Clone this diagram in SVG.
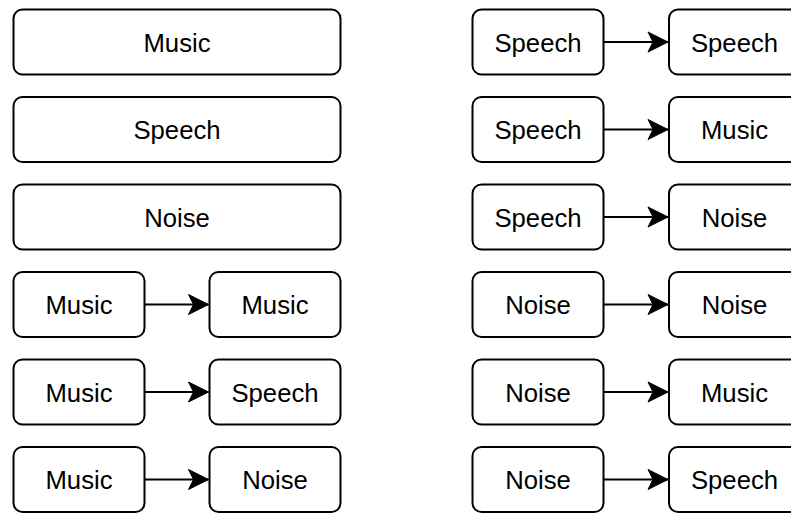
<svg xmlns="http://www.w3.org/2000/svg" width="791" height="513" viewBox="0 0 791 513">
<style>
.b{fill:#fff;stroke:#000;stroke-width:2}
.t{font-family:"Liberation Sans",Arial,sans-serif;font-size:25.7px;text-anchor:middle;fill:#000}
.c{stroke:#000;stroke-width:2;fill:none}
</style>
<defs>
<marker id="ah" markerUnits="userSpaceOnUse" markerWidth="24" markerHeight="24" viewBox="-22 -12 24 24" refX="0" refY="0" orient="auto">
<path d="M0,0 L-20,-10 L-15,0 L-20,10 Z" fill="#000" stroke="#000" stroke-width="1"/>
</marker>
</defs>
<rect width="791" height="513" fill="#fff"/>
<g id="n1"><rect class="b" x="13.5" y="9.5" width="327" height="65" rx="9"/><text class="t" x="177" y="51.5">Music</text></g>
<g id="n2"><rect class="b" x="13.5" y="97" width="327" height="65" rx="9"/><text class="t" x="177" y="139">Speech</text></g>
<g id="n3"><rect class="b" x="13.5" y="184.5" width="327" height="65" rx="9"/><text class="t" x="177" y="226.5">Noise</text></g>
<g id="n4"><rect class="b" x="13.5" y="272" width="131" height="65" rx="9"/><text class="t" x="79" y="314">Music</text></g>
<g id="n5"><rect class="b" x="209.5" y="272" width="131" height="65" rx="9"/><text class="t" x="275" y="314">Music</text></g>
<g id="n6"><rect class="b" x="13.5" y="359.5" width="131" height="65" rx="9"/><text class="t" x="79" y="401.5">Music</text></g>
<g id="n7"><rect class="b" x="209.5" y="359.5" width="131" height="65" rx="9"/><text class="t" x="275" y="401.5">Speech</text></g>
<g id="n8"><rect class="b" x="13.5" y="447" width="131" height="65" rx="9"/><text class="t" x="79" y="489">Music</text></g>
<g id="n9"><rect class="b" x="209.5" y="447" width="131" height="65" rx="9"/><text class="t" x="275" y="489">Noise</text></g>
<g id="n10"><rect class="b" x="472.5" y="9.5" width="131" height="65" rx="9"/><text class="t" x="538" y="51.5">Speech</text></g>
<g id="n11"><rect class="b" x="669" y="9.5" width="131" height="65" rx="9"/><text class="t" x="734.5" y="51.5">Speech</text></g>
<g id="n12"><rect class="b" x="472.5" y="97" width="131" height="65" rx="9"/><text class="t" x="538" y="139">Speech</text></g>
<g id="n13"><rect class="b" x="669" y="97" width="131" height="65" rx="9"/><text class="t" x="734.5" y="139">Music</text></g>
<g id="n14"><rect class="b" x="472.5" y="184.5" width="131" height="65" rx="9"/><text class="t" x="538" y="226.5">Speech</text></g>
<g id="n15"><rect class="b" x="669" y="184.5" width="131" height="65" rx="9"/><text class="t" x="734.5" y="226.5">Noise</text></g>
<g id="n16"><rect class="b" x="472.5" y="272" width="131" height="65" rx="9"/><text class="t" x="538" y="314">Noise</text></g>
<g id="n17"><rect class="b" x="669" y="272" width="131" height="65" rx="9"/><text class="t" x="734.5" y="314">Noise</text></g>
<g id="n18"><rect class="b" x="472.5" y="359.5" width="131" height="65" rx="9"/><text class="t" x="538" y="401.5">Noise</text></g>
<g id="n19"><rect class="b" x="669" y="359.5" width="131" height="65" rx="9"/><text class="t" x="734.5" y="401.5">Music</text></g>
<g id="n20"><rect class="b" x="472.5" y="447" width="131" height="65" rx="9"/><text class="t" x="538" y="489">Noise</text></g>
<g id="n21"><rect class="b" x="669" y="447" width="131" height="65" rx="9"/><text class="t" x="734.5" y="489">Speech</text></g>
<g id="connectors">
<path class="c" d="M144.5,304.5 H208.5" marker-end="url(#ah)"/>
<path class="c" d="M144.5,392 H208.5" marker-end="url(#ah)"/>
<path class="c" d="M144.5,479.5 H208.5" marker-end="url(#ah)"/>
<path class="c" d="M603.5,42 H668" marker-end="url(#ah)"/>
<path class="c" d="M603.5,129.5 H668" marker-end="url(#ah)"/>
<path class="c" d="M603.5,217 H668" marker-end="url(#ah)"/>
<path class="c" d="M603.5,304.5 H668" marker-end="url(#ah)"/>
<path class="c" d="M603.5,392 H668" marker-end="url(#ah)"/>
<path class="c" d="M603.5,479.5 H668" marker-end="url(#ah)"/>
</g>
</svg>
